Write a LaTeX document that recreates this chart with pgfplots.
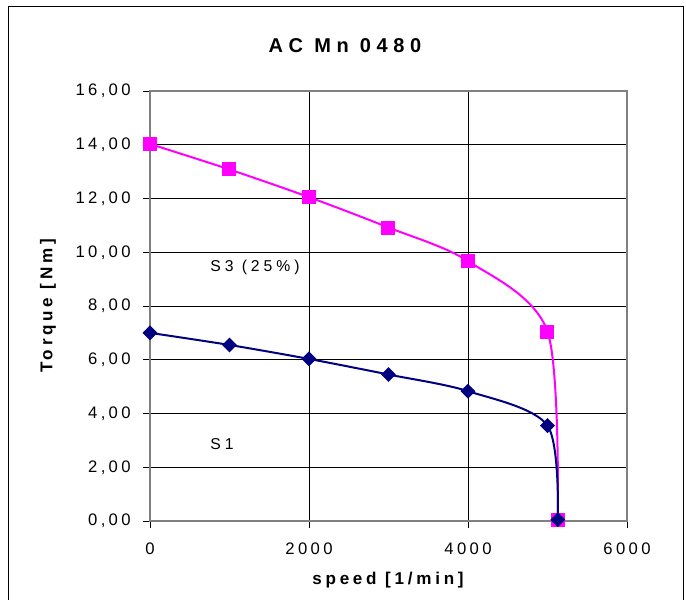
\documentclass[border=0pt]{standalone}
\usepackage{fontspec}
\setmainfont{Liberation Sans}
\usepackage{pgfplots}
\pgfplotsset{compat=1.18}

\definecolor{sthree}{HTML}{FF00FF}
\definecolor{sone}{HTML}{000080}
\definecolor{frameg}{HTML}{808080}

\begin{document}
\begin{tikzpicture}[x=1pt,y=1pt]
% page = 686x600 px at 0.75pt/px, axis box lower left at origin
\path[use as bounding box] (-112.5,-59.25) rectangle (402,390.75);
\draw[line width=0.75pt] (-105.75,-70) -- (-105.75,385.5) -- (399.75,385.5) -- (399.75,-70);
\begin{axis}[
    scale only axis,
    width=357.75pt, height=322.5pt,
    xmin=0, xmax=6000, ymin=0, ymax=16,
    xtick={0,2000,4000,6000},
    ytick={0,2,...,16},
    grid=major,
    major grid style={black, line width=0.6pt},
    axis line style={frameg, line width=2pt},
    tick style={black, line width=0.6pt},
    tick align=outside,
    major tick length=5pt,
    tick pos=left,
    /pgf/number format/assume math mode=true,
    x tick label style={font=\fontsize{12.5}{14}\selectfont\addfontfeatures{LetterSpace=20},
        /pgf/number format/.cd, 1000 sep={}},
    y tick label style={font=\fontsize{12.5}{14}\selectfont\addfontfeatures{LetterSpace=20},
        /pgf/number format/.cd, fixed, fixed zerofill, precision=2, use comma},
    xticklabel shift=8pt,
    yticklabel shift=6pt,
    clip=false,
]
\addplot[sthree, line width=1.5pt, smooth, tension=0.5,
    mark=square*, mark size=4.5pt, mark options={solid, fill=sthree}] coordinates {
    (0,14.03) (1000,13.08) (2000,12.05) (3000,10.92) (4000,9.67) (5000,7.05) (5130,0.05)
};
\addplot[sone, line width=1.5pt, smooth, tension=0.5,
    mark=square*, mark size=3.2pt, mark options={solid, fill=sone, rotate=45}] coordinates {
    (0,7.00) (1000,6.55) (2000,6.03) (3000,5.45) (4000,4.83) (5000,3.55) (5130,0.05)
};
\node[font=\fontsize{11.8}{13}\selectfont\addfontfeatures{LetterSpace=25}] at (axis cs:1320,9.45) {S3 (25\%)};
\node[font=\fontsize{11.8}{13}\selectfont\addfontfeatures{LetterSpace=25}] at (axis cs:906,2.87) {S1};
\end{axis}
\node[font=\fontsize{15}{17}\selectfont\bfseries\addfontfeatures{LetterSpace=28}] at (146.25,356.25) {AC Mn 0480};
\node[font=\fontsize{12.8}{14}\selectfont\bfseries\addfontfeatures{LetterSpace=22}] at (178.5,-44.25) {speed [1/min]};
\node[rotate=90, font=\fontsize{12.8}{14}\selectfont\bfseries\addfontfeatures{LetterSpace=22}] at (-76.5,161.25) {Torque [Nm]};
\end{tikzpicture}
\end{document}
